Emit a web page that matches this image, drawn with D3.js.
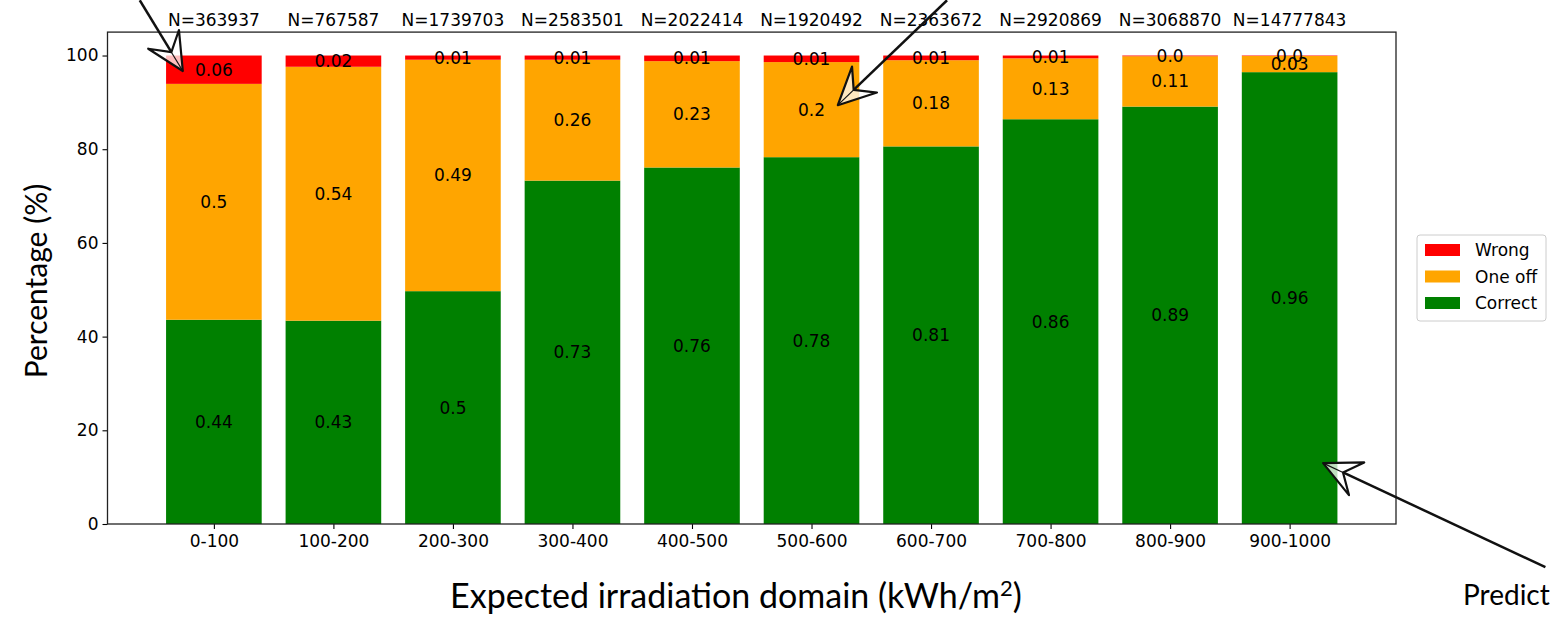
<!doctype html>
<head>
  <script src="https://cdnjs.cloudflare.com/ajax/libs/d3/7.8.5/d3.min.js"></script>
  <style>
    body { margin: 0; background: #fff; }
    svg { display: block; }
    .tick text { font-family: "DejaVu Sans", sans-serif; font-size: 17px; fill: #000; }
    .tick line { stroke: #000; stroke-width: 1.1; }
  </style>
</head>
<body>
  <svg width="1550" height="620"></svg>
  <script type="text/javascript">
    // irradiation bins and sample counts
    var categories = ["0-100", "100-200", "200-300", "300-400", "400-500", "500-600", "600-700", "700-800", "800-900", "900-1000"]
    var counts = [363937, 767587, 1739703, 2583501, 2022414, 1920492, 2363672, 2920869, 3068870, 14777843]
    // percentages of each outcome per bin
    var correct = [43.6, 43.4, 49.7, 73.3, 76.1, 78.3, 80.6, 86.4, 89.1, 96.45]
    var oneOff = [50.35, 54.2, 49.4, 25.8, 22.7, 20.3, 18.4, 13.0, 10.75, 3.45]
    var wrong = [6.05, 2.4, 0.9, 0.9, 1.2, 1.4, 1.0, 0.6, 0.15, 0.1]
    var yTicks = [0, 20, 40, 60, 80, 100]
    var keys = ["Correct", "One off", "Wrong"]
    var colors = {"Correct": "green", "One off": "orange", "Wrong": "red"}

    var table = categories.map((c, i) => ({cat: c, i: i, "Correct": correct[i], "One off": oneOff[i], "Wrong": wrong[i]}))
    var series = d3.stack().keys(keys)(table)

    var svg = d3.select("svg")
    var x = d3.scaleLinear().domain([-0.89, 9.89]).range([107.5, 1396])
    var y = d3.scaleLinear().domain([0, 105]).range([524, 32.1])
    var barW = x(0.8) - x(0)

    // python style round(v, 2) text
    var fmt = v => { var s = String(Math.round(v) / 100); return s.indexOf(".") < 0 ? s + ".0" : s }

    var layer = svg.selectAll("g.layer")
    .data(series)
    .enter()
    .append("g")
    .attr("class", "layer")
    .style("fill", d => colors[d.key])

    layer.selectAll("rect")
    .data(d => d)
    .enter()
    .append("rect")
    .attr("x", d => x(d.data.i) - barW / 2)
    .attr("width", barW)
    .attr("y", d => y(d[1]))
    .attr("height", d => y(d[0]) - y(d[1]))

    layer.selectAll("text")
    .data(d => d.map(p => ({p: p, key: d.key})))
    .enter()
    .append("text")
    .attr("x", d => x(d.p.data.i))
    .attr("y", d => y((d.p[0] + d.p[1]) / 2))
    .attr("text-anchor", "middle")
    .attr("dominant-baseline", "central")
    .style("font-family", "DejaVu Sans, sans-serif")
    .style("font-size", "17px")
    .style("fill", "#000")
    .text(d => fmt(d.p.data[d.key]))

    // N labels above the frame
    svg.selectAll("text.count")
    .data(counts)
    .enter()
    .append("text")
    .attr("class", "count")
    .attr("x", (d, i) => x(i))
    .attr("y", y(107.5))
    .attr("text-anchor", "middle")
    .attr("dominant-baseline", "central")
    .style("font-family", "DejaVu Sans, sans-serif")
    .style("font-size", "17px")
    .text(d => "N=" + d)

    // axes
    var yAxis = svg.append("g").attr("transform", "translate(" + x(-0.89) + ",0)")
    .call(d3.axisLeft(y).tickValues(yTicks).tickSize(5).tickPadding(4))
    yAxis.select(".domain").remove()

    var xAxis = svg.append("g").attr("transform", "translate(0," + y(0) + ")")
    .call(d3.axisBottom(x).tickValues(d3.range(categories.length)).tickFormat(i => categories[i]).tickSize(5).tickPadding(6))
    xAxis.select(".domain").remove()

    svg.append("rect")
    .attr("x", x(-0.89)).attr("y", y(105))
    .attr("width", x(9.89) - x(-0.89)).attr("height", y(0) - y(105))
    .style("fill", "none").style("stroke", "#222").style("stroke-width", 1.3)

    // legend
    var leg = svg.append("g").attr("transform", "translate(1417,235)")
    leg.append("rect").attr("width", 129).attr("height", 86).attr("rx", 3)
    .style("fill", "#fff").style("stroke", "#ccc").style("stroke-width", 1)
    ;["Wrong", "One off", "Correct"].forEach((k, i) => {
      leg.append("rect").attr("x", 8).attr("y", 9 + i * 26.5).attr("width", 35).attr("height", 12).style("fill", colors[k])
      leg.append("text").attr("x", 58).attr("y", 15 + i * 26.5).attr("dominant-baseline", "central")
      .style("font-family", "DejaVu Sans, sans-serif").style("font-size", "17px").text(k)
    })

    // axis titles
    var xt = svg.append("text").attr("x", 736).attr("y", 608).attr("text-anchor", "middle")
    .style("font-family", "Lato, sans-serif").style("font-size", "34px")
    xt.append("tspan").text("Expected irradiation domain (kWh/m")
    xt.append("tspan").attr("dy", -12).style("font-size", "22px").text("2")
    xt.append("tspan").attr("dy", 12).text(")")

    svg.append("text").attr("transform", "translate(47,281) rotate(-90)").attr("text-anchor", "middle")
    .style("font-family", "Lato, sans-serif").style("font-size", "30px").text("Percentage (%)")

    svg.append("text").attr("x", 1463).attr("y", 605)
    .style("font-family", "Lato, sans-serif").style("font-size", "28px").text("Predicted")

    // hand drawn arrows, tail and tip in data units
    var arrows = [
      {tail: [-0.62, 111.8], tip: [-0.26, 96.7]},
      {tail: [6.134, 111.8], tip: [5.22, 89.4]},
      {tail: [11.14, -9.2], tip: [9.28, 13.0]}
    ]
    arrows.forEach(a => {
      var t0 = [x(a.tail[0]), y(a.tail[1])], t1 = [x(a.tip[0]), y(a.tip[1])]
      var dx = t0[0] - t1[0], dy = t0[1] - t1[1], len = Math.hypot(dx, dy)
      var ux = dx / len, uy = dy / len, px = -uy, py = ux
      var L = 37, W = 18, N = 22
      var b1 = [t1[0] + ux * L + px * W, t1[1] + uy * L + py * W]
      var b2 = [t1[0] + ux * L - px * W, t1[1] + uy * L - py * W]
      var nt = [t1[0] + ux * N, t1[1] + uy * N]
      svg.append("line").attr("x1", t0[0]).attr("y1", t0[1]).attr("x2", nt[0]).attr("y2", nt[1])
      .style("stroke", "#111").style("stroke-width", 2.5)
      svg.append("path").attr("d", "M" + [t1, b1, nt, b2].join("L") + "Z")
      .style("fill", "#fff").style("fill-opacity", 0.75).style("stroke", "#111").style("stroke-width", 2.2).style("stroke-linejoin", "round")
      svg.append("line").attr("x1", t1[0]).attr("y1", t1[1]).attr("x2", nt[0]).attr("y2", nt[1])
      .style("stroke", "#111").style("stroke-width", 1.2)
    })
  </script>
</body>
</html>
